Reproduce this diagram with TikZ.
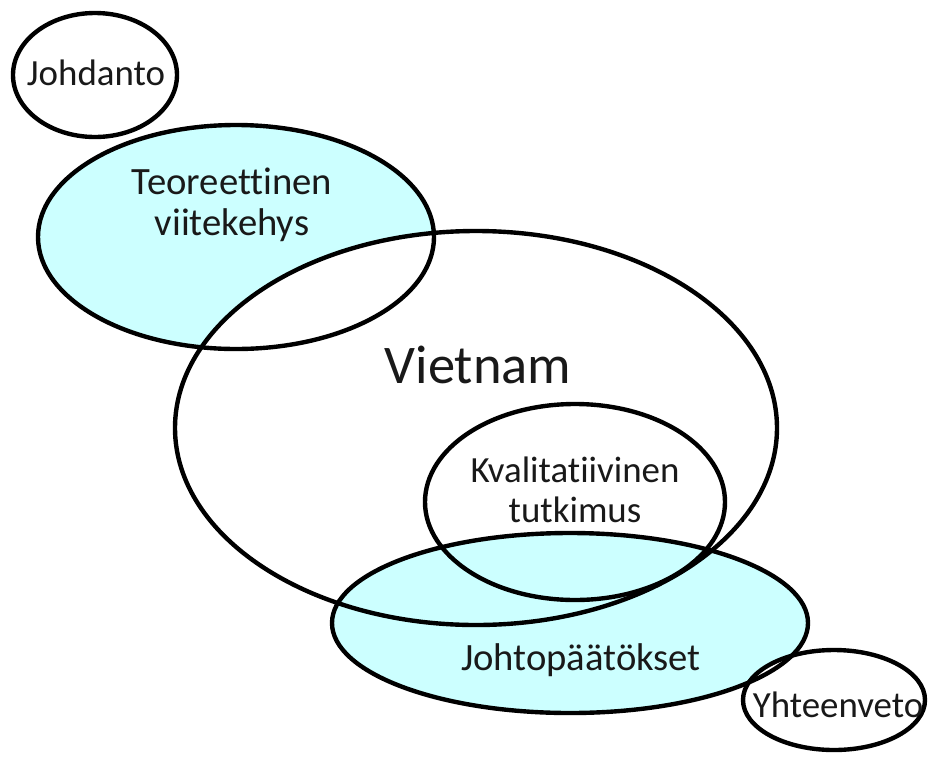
\documentclass[tikz,border=0pt]{standalone}
\usepackage{fontspec}
\setmainfont{Carlito}[Ligatures=NoCommon]
\usepackage{tikz}
\usetikzlibrary{positioning}
\definecolor{paleCyan}{RGB}{204,255,255}

\begin{document}
\begin{tikzpicture}[
  x=0.02cm, y=-0.02cm,
  outline/.style={draw=black, line width=2.5pt},
  lbl/.style={font=\fontsize{21}{23}\selectfont, text=black!90, align=center, inner sep=0pt},
  biglbl/.style={lbl, font=\fontsize{31}{36}\selectfont},
]
\useasboundingbox (0,0) rectangle (930,758);

% --- Centres ---
\coordinate (cJoh) at (95,75);
\coordinate (cTeo) at (236,237);
\coordinate (cVie) at (476,428);
\coordinate (cKva) at (575,502);
\coordinate (cPaa) at (570,623);
\coordinate (cYht) at (834,700);

% --- Fills (back to front) ---
\fill[white]    (cJoh) ellipse [x radius=82,  y radius=62];
\fill[paleCyan] (cTeo) ellipse [x radius=198, y radius=112];
\fill[white]    (cVie) ellipse [x radius=301, y radius=197];
\fill[white]    (cKva) ellipse [x radius=150, y radius=98];
\fill[paleCyan] (cPaa) ellipse [x radius=238, y radius=90];
\fill[white]    (cYht) ellipse [x radius=91,  y radius=50];

% --- Outlines ---
\draw[outline] (cJoh) ellipse [x radius=82,  y radius=62];
\draw[outline] (cTeo) ellipse [x radius=198, y radius=112];
\draw[outline] (cVie) ellipse [x radius=301, y radius=197];
\draw[outline] (cKva) ellipse [x radius=150, y radius=98];
\draw[outline] (cPaa) ellipse [x radius=238, y radius=90];
\draw[outline] (cYht) ellipse [x radius=91,  y radius=50];

% --- Labels ---
\node[lbl] (johdanto) at (96,73) {Johdanto};
\node[lbl, font=\fontsize{22}{23}\selectfont] (teoria) at (232,205) {Teoreettinen\\viitekehys};
\node[biglbl] (vietnam) at (478,365) {Vietnam};
\node[lbl] (kvali) at (575,490) {Kvalitatiivinen\\tutkimus};
\node[lbl, font=\fontsize{22}{26}\selectfont] (paatos) at (581,660) {Johtopäätökset};
\node[lbl] (yhteen) at (838,705) {Yhteenveto};
\end{tikzpicture}
\end{document}
